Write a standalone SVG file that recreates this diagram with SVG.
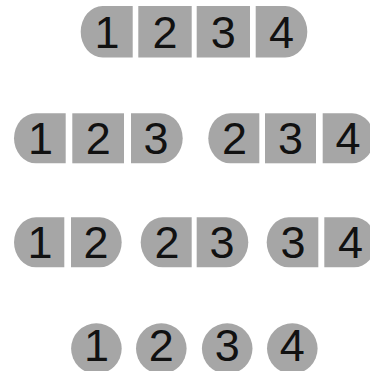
<svg xmlns="http://www.w3.org/2000/svg" width="370" height="371" viewBox="0 0 370 371">
<style>
.c{fill:#a6a6a6;stroke:none}
.t{font-family:"Liberation Sans",Arial,sans-serif;font-size:45px;fill:#111;text-anchor:middle}
</style>
<rect width="370" height="371" fill="#fff"/>
<!-- Row 1 -->
<g id="row1">
<g id="r1c1"><path class="c" d="M102.7,6 H132.7 V57.5 H102.7 A22 25.75 0 0 1 102.7,6 Z"/><text class="t" x="107" y="48">1</text></g>
<g id="r1c2"><rect class="c" x="138.3" y="6" width="53.4" height="51.5"/><text class="t" x="165" y="48">2</text></g>
<g id="r1c3"><rect class="c" x="196.7" y="6" width="53.3" height="51.5"/><text class="t" x="223.3" y="48">3</text></g>
<g id="r1c4"><path class="c" d="M255.7,6 H285.3 A22 25.75 0 0 1 285.3,57.5 H255.7 Z"/><text class="t" x="281.5" y="48">4</text></g>
</g>
<!-- Row 2 -->
<g id="row2">
<g id="r2a1"><path class="c" d="M36,113.3 H65.7 V163.3 H36 A22 25 0 0 1 36,113.3 Z"/><text class="t" x="40.5" y="154">1</text></g>
<g id="r2a2"><rect class="c" x="72.3" y="113.3" width="51.7" height="50"/><text class="t" x="98.2" y="154">2</text></g>
<g id="r2a3"><path class="c" d="M131,113.3 H160.7 A22 25 0 0 1 160.7,163.3 H131 Z"/><text class="t" x="156" y="154">3</text></g>
<g id="r2b1"><path class="c" d="M230.3,113.3 H259.3 V163.3 H230.3 A22 25 0 0 1 230.3,113.3 Z"/><text class="t" x="234.5" y="154">2</text></g>
<g id="r2b2"><rect class="c" x="265" y="113.3" width="51" height="50"/><text class="t" x="290.5" y="154">3</text></g>
<g id="r2b3"><path class="c" d="M322.7,113.3 H352 A22 25 0 0 1 352,163.3 H322.7 Z"/><text class="t" x="348" y="154">4</text></g>
</g>
<!-- Row 3 -->
<g id="row3">
<g id="r3a1"><path class="c" d="M36,217.3 H64.3 V267.3 H36 A22 25 0 0 1 36,217.3 Z"/><text class="t" x="40" y="258">1</text></g>
<g id="r3a2"><path class="c" d="M71,217.3 H99.7 A22 25 0 0 1 99.7,267.3 H71 Z"/><text class="t" x="96" y="258">2</text></g>
<g id="r3b1"><path class="c" d="M162.7,217.3 H191.7 V267.3 H162.7 A22 25 0 0 1 162.7,217.3 Z"/><text class="t" x="167" y="258">2</text></g>
<g id="r3b2"><path class="c" d="M196.7,217.3 H226.3 A22 25 0 0 1 226.3,267.3 H196.7 Z"/><text class="t" x="222" y="258">3</text></g>
<g id="r3c1"><path class="c" d="M288.7,217.3 H318.3 V267.3 H288.7 A22 25 0 0 1 288.7,217.3 Z"/><text class="t" x="293" y="258">3</text></g>
<g id="r3c2"><path class="c" d="M324.3,217.3 H354 A22 25 0 0 1 354,267.3 H324.3 Z"/><text class="t" x="350.5" y="258">4</text></g>
</g>
<!-- Row 4 -->
<g id="row4">
<g id="r4c1"><circle class="c" cx="96.4" cy="348.6" r="25.3"/><text class="t" x="96.4" y="361">1</text></g>
<g id="r4c2"><circle class="c" cx="161.3" cy="348.6" r="25.3"/><text class="t" x="161.3" y="361">2</text></g>
<g id="r4c3"><circle class="c" cx="227.2" cy="348.6" r="25.3"/><text class="t" x="227.2" y="361">3</text></g>
<g id="r4c4"><circle class="c" cx="292.3" cy="348.6" r="25.3"/><text class="t" x="292.3" y="361">4</text></g>
</g>
</svg>
